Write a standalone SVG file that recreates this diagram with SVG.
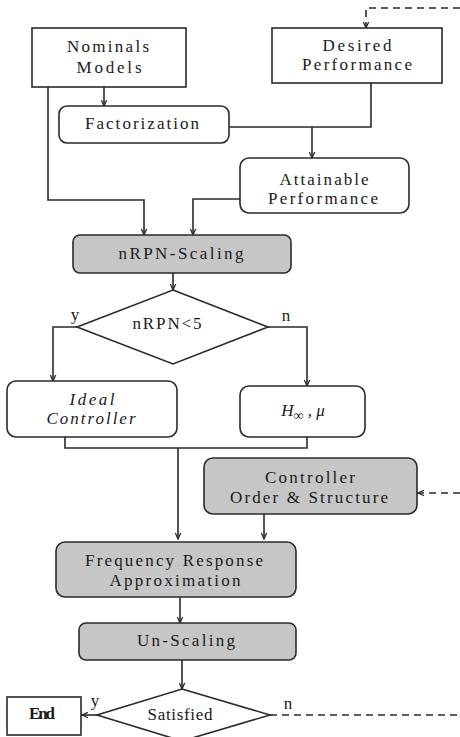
<svg xmlns="http://www.w3.org/2000/svg" width="460" height="737" viewBox="0 0 460 737">
<style>
.box{fill:#fff;stroke:#2a2a2a;stroke-width:1.6}
.gray{fill:#c6c6c6;stroke:#2a2a2a;stroke-width:1.6}
.t{font-family:"Liberation Serif","DejaVu Serif","Times New Roman",serif;font-size:17px;fill:#1a1a1a;text-anchor:middle}
.it{font-style:italic}
.c{fill:none;stroke:#2a2a2a;stroke-width:1.6}
.d{fill:none;stroke:#2a2a2a;stroke-width:1.6;stroke-dasharray:7 5}
</style>
<defs>
<marker id="ah" viewBox="0 0 10 10" refX="9" refY="5" markerWidth="7" markerHeight="7" orient="auto" markerUnits="userSpaceOnUse">
<path d="M0,1 L9,5 L0,9" fill="none" stroke="#2a2a2a" stroke-width="1.8"/>
</marker>
</defs>
<rect width="460" height="737" fill="#fff"/>
<g id="connectors">
<path class="c" d="M104 87 V106" marker-end="url(#ah)"/>
<path class="c" d="M371 83 V127 H229"/>
<path class="c" d="M312 127 V158" marker-end="url(#ah)"/>
<path class="c" d="M48 87 V200 H144 V235" marker-end="url(#ah)"/>
<path class="c" d="M240 199 H193 V235" marker-end="url(#ah)"/>
<path class="c" d="M173 273 V290" marker-end="url(#ah)"/>
<path class="c" d="M77 327 H53 V381" marker-end="url(#ah)"/>
<path class="c" d="M268 327 H307 V386" marker-end="url(#ah)"/>
<path class="c" d="M65 437 V448 H307 V437"/>
<path class="c" d="M178 448 V539" marker-end="url(#ah)"/>
<path class="c" d="M264 514 V539" marker-end="url(#ah)"/>
<path class="d" d="M460 493 H418" marker-end="url(#ah)"/>
<path class="c" d="M180 597 V623" marker-end="url(#ah)"/>
<path class="c" d="M182 660 V689" marker-end="url(#ah)"/>
<path class="c" d="M97 715 H82" marker-end="url(#ah)"/>
<path class="d" d="M270 715 H460"/>
<path class="d" d="M460 8 H366 V28" marker-end="url(#ah)"/>
<text class="t" x="75" y="320" font-size="16">y</text>
<text class="t" x="286" y="321" font-size="16">n</text>
<text class="t" x="95" y="706" font-size="16">y</text>
<text class="t" x="288" y="709" font-size="16">n</text>
</g>
<g id="nominals">
<rect class="box" x="32" y="28" width="154" height="59"/>
<text class="t" x="108" y="52" textLength="82" lengthAdjust="spacing">Nominals</text>
<text class="t" x="109" y="73" textLength="65" lengthAdjust="spacing">Models</text>
</g>
<g id="desired">
<rect class="box" x="272" y="28" width="170" height="55"/>
<text class="t" x="357" y="51" textLength="69" lengthAdjust="spacing">Desired</text>
<text class="t" x="357" y="70" textLength="110" lengthAdjust="spacing">Performance</text>
</g>
<g id="factorization">
<rect class="box" x="59" y="106" width="170" height="37" rx="8"/>
<text class="t" x="142" y="129" textLength="114" lengthAdjust="spacing">Factorization</text>
</g>
<g id="attainable">
<rect class="box" x="240" y="158" width="169" height="55" rx="9"/>
<text class="t" x="324" y="185" textLength="89" lengthAdjust="spacing">Attainable</text>
<text class="t" x="323" y="204" textLength="110" lengthAdjust="spacing">Performance</text>
</g>
<g id="scaling">
<rect class="gray" x="73" y="235" width="218" height="38" rx="7"/>
<text class="t" x="181" y="259" textLength="125" lengthAdjust="spacing">nRPN-Scaling</text>
</g>
<g id="decision1">
<polygon class="box" points="173,290 268,327 173,364 77,327"/>
<text class="t" x="167" y="329" textLength="69" lengthAdjust="spacing">nRPN&lt;5</text>
</g>
<g id="ideal">
<rect class="box" x="7" y="381" width="170" height="56" rx="9"/>
<text class="t it" x="92" y="405" textLength="45" lengthAdjust="spacing">Ideal</text>
<text class="t it" x="91" y="424" textLength="89" lengthAdjust="spacing">Controller</text>
</g>
<g id="hinf">
<rect class="box" x="240" y="386" width="125" height="51" rx="9"/>
<text class="t it" x="303" y="416" font-size="20">H<tspan font-size="14" dy="4">∞</tspan><tspan dy="-4"> , μ</tspan></text>
</g>
<g id="order">
<rect class="gray" x="204" y="458" width="213" height="56" rx="9"/>
<text class="t" x="310" y="483" textLength="90" lengthAdjust="spacing">Controller</text>
<text class="t" x="309" y="503" textLength="158" lengthAdjust="spacing">Order &amp; Structure</text>
</g>
<g id="frequency">
<rect class="gray" x="56" y="542" width="240" height="55" rx="9"/>
<text class="t" x="174" y="566" textLength="178" lengthAdjust="spacing">Frequency Response</text>
<text class="t" x="175" y="586" textLength="131" lengthAdjust="spacing">Approximation</text>
</g>
<g id="unscaling">
<rect class="gray" x="79" y="623" width="217" height="37" rx="7"/>
<text class="t" x="186" y="646" textLength="98" lengthAdjust="spacing">Un-Scaling</text>
</g>
<g id="satisfied">
<polygon class="box" points="182,689 270,715 182,741 97,715"/>
<text class="t" x="180" y="720" textLength="65" lengthAdjust="spacing">Satisfied</text>
</g>
<g id="end">
<rect class="box" x="7" y="697" width="74" height="38"/>
<text class="t" x="42" y="719" font-size="12" font-weight="bold" textLength="26" lengthAdjust="spacing">End</text>
</g>
</svg>
